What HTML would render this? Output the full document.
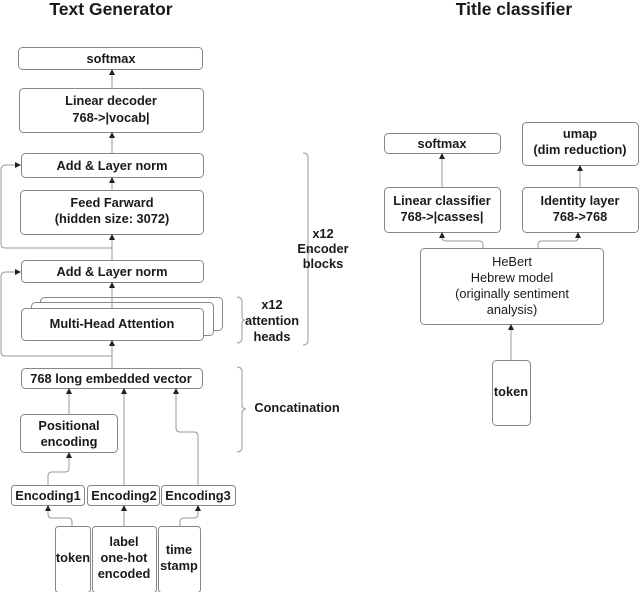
<!DOCTYPE html>
<html><head><meta charset="utf-8"><style>
html,body{margin:0;padding:0;background:#fff;}
svg{display:block;}
text{font-family:"Liberation Sans",sans-serif;font-weight:bold;fill:#1a1a1a;font-size:12.8px;text-anchor:middle;}
.b{fill:#fff;stroke:#888;stroke-width:1;}
.l{fill:none;stroke:#999;stroke-width:1;}
.br{fill:none;stroke:#aaa;stroke-width:1.2;}
</style></head><body>
<svg width="640" height="592" viewBox="0 0 640 592">
<defs><marker id="a" markerWidth="6" markerHeight="6" refX="5" refY="3" orient="auto" markerUnits="userSpaceOnUse"><path d="M0,0 L6,3 L0,6 z" fill="#222"/></marker></defs>

<text x="111" y="15" style="font-size:17.5px">Text Generator</text>
<text x="514" y="15" style="font-size:17.5px">Title classifier</text>

<!-- left boxes -->
<rect class="b" x="18.5" y="47.5" width="184" height="22" rx="4"/>
<text x="111" y="63">softmax</text>
<rect class="b" x="19.5" y="88.5" width="184" height="44" rx="4"/>
<text x="111" y="105">Linear decoder</text>
<text x="111" y="122">768-&gt;|vocab|</text>
<rect class="b" x="21.5" y="153.5" width="182" height="24" rx="4"/>
<text x="112" y="170">Add &amp; Layer norm</text>
<rect class="b" x="20.5" y="190.5" width="183" height="44" rx="4"/>
<text x="112" y="207">Feed Farward</text>
<text x="112" y="223">(hidden size: 3072)</text>
<rect class="b" x="21.5" y="260.5" width="182" height="22" rx="4"/>
<text x="112" y="276">Add &amp; Layer norm</text>
<rect class="b" x="40.5" y="297.5" width="182" height="33" rx="4"/>
<rect class="b" x="31.5" y="302.5" width="182" height="33" rx="4"/>
<rect class="b" x="21.5" y="308.5" width="182" height="32" rx="4"/>
<text x="112" y="328">Multi-Head Attention</text>
<rect class="b" x="21.5" y="368.5" width="181" height="20" rx="4"/>
<text x="111" y="383">768 long embedded vector</text>
<rect class="b" x="20.5" y="414.5" width="97" height="38" rx="4"/>
<text x="69" y="430">Positional</text>
<text x="69" y="446">encoding</text>
<rect class="b" x="11.5" y="485.5" width="73" height="20" rx="3"/>
<text x="48" y="500">Encoding1</text>
<rect class="b" x="87.5" y="485.5" width="72" height="20" rx="3"/>
<text x="124" y="500">Encoding2</text>
<rect class="b" x="161.5" y="485.5" width="74" height="20" rx="3"/>
<text x="198" y="500">Encoding3</text>
<rect class="b" x="55.5" y="526.5" width="35" height="66" rx="3"/>
<text x="73" y="562">token</text>
<rect class="b" x="92.5" y="526.5" width="64" height="66" rx="3"/>
<text x="124" y="546">label</text>
<text x="124" y="562">one-hot</text>
<text x="124" y="578">encoded</text>
<rect class="b" x="158.5" y="526.5" width="42" height="66" rx="3"/>
<text x="179" y="554">time</text>
<text x="179" y="570">stamp</text>

<!-- left arrows -->
<path class="l" d="M112,88 V70" marker-end="url(#a)"/>
<path class="l" d="M112,153 V133" marker-end="url(#a)"/>
<path class="l" d="M112,190 V178" marker-end="url(#a)"/>
<path class="l" d="M112,260 V235" marker-end="url(#a)"/>
<path class="l" d="M112,308 V283" marker-end="url(#a)"/>
<path class="l" d="M112,368 V341" marker-end="url(#a)"/>
<path class="l" d="M112,248 H5 Q1,248 1,244 V170 Q1,165 6,165 H20" marker-end="url(#a)"/>
<path class="l" d="M112,356 H5 Q1,356 1,352 V277 Q1,272 6,272 H20" marker-end="url(#a)"/>
<path class="l" d="M69,414 V389" marker-end="url(#a)"/>
<path class="l" d="M48,485 V476 Q48,472 52,472 H65 Q69,472 69,468 V453" marker-end="url(#a)"/>
<path class="l" d="M124,485 V389" marker-end="url(#a)"/>
<path class="l" d="M198,485 V436 Q198,432 194,432 H180 Q176,432 176,428 V389" marker-end="url(#a)"/>
<path class="l" d="M72,526 V522 Q72,518 68,518 H52 Q48,518 48,514 V506" marker-end="url(#a)"/>
<path class="l" d="M124,526 V506" marker-end="url(#a)"/>
<path class="l" d="M180,526 V522 Q180,518 184,518 H194 Q198,518 198,514 V506" marker-end="url(#a)"/>

<!-- braces -->
<path class="br" d="M303,153 Q308,153 308,158 V246 Q308,251 312,251 Q308,251 308,256 V340 Q308,345 303,345"/>
<text x="323" y="238">x12</text>
<text x="323" y="253">Encoder</text>
<text x="323" y="268">blocks</text>
<path class="br" d="M237,297 Q242,297 242,302 V316 Q242,320 245,320 Q242,320 242,324 V338 Q242,343 237,343"/>
<text x="272" y="309">x12</text>
<text x="272" y="325">attention</text>
<text x="272" y="341">heads</text>
<path class="br" d="M237,367 Q242,367 242,372 V404 Q242,409 246,409 Q242,409 242,414 V447 Q242,452 237,452"/>
<text x="297" y="412">Concatination</text>

<!-- right -->
<rect class="b" x="384.5" y="133.5" width="116" height="20" rx="4"/>
<text x="442" y="148">softmax</text>
<rect class="b" x="522.5" y="122.5" width="116" height="43" rx="4"/>
<text x="580" y="138">umap</text>
<text x="580" y="154">(dim reduction)</text>
<rect class="b" x="384.5" y="187.5" width="116" height="45" rx="4"/>
<text x="442" y="205">Linear classifier</text>
<text x="442" y="221">768-&gt;|casses|</text>
<rect class="b" x="522.5" y="187.5" width="116" height="45" rx="4"/>
<text x="580" y="205">Identity layer</text>
<text x="580" y="221">768-&gt;768</text>
<rect class="b" x="420.5" y="248.5" width="183" height="76" rx="4"/>
<text x="512" y="266" style="font-weight:normal">HeBert</text>
<text x="512" y="282" style="font-weight:normal">Hebrew model</text>
<text x="512" y="298" style="font-weight:normal">(originally sentiment</text>
<text x="512" y="314" style="font-weight:normal">analysis)</text>
<rect class="b" x="492.5" y="360.5" width="38" height="65" rx="4"/>
<text x="511" y="396">token</text>
<path class="l" d="M442,187 V154" marker-end="url(#a)"/>
<path class="l" d="M580,187 V166" marker-end="url(#a)"/>
<path class="l" d="M511,360 V325" marker-end="url(#a)"/>
<path class="l" d="M483,248 V245 Q483,241 479,241 H446 Q442,241 442,238 V233" marker-end="url(#a)"/>
<path class="l" d="M538,248 V245 Q538,241 542,241 H575 Q578,241 578,238 V233" marker-end="url(#a)"/>
</svg>
</body></html>
